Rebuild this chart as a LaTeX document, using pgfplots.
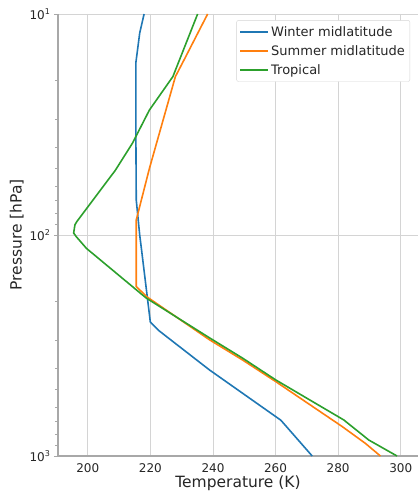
\documentclass[border=0pt]{standalone}
\usepackage{pgfplots}
\pgfplotsset{compat=1.18}
\usepackage{fontspec}
\setmainfont{DejaVu Sans}
\definecolor{mblue}{HTML}{1F77B4}
\definecolor{morange}{HTML}{FF7F0E}
\definecolor{mgreen}{HTML}{2CA02C}
\definecolor{spine}{HTML}{A8A8A8}
\definecolor{gridc}{HTML}{D4D4D4}
\definecolor{txt}{HTML}{262626}
\begin{document}
\begin{tikzpicture}
\begin{axis}[
  scale only axis,
  width=360pt, height=442pt,
  xmin=190.5, xmax=305.5,
  ymode=log, ymin=10, ymax=1000,
  y dir=reverse,
  axis lines*=left,
  axis line style={draw=spine, line width=1.6pt, -},
  xtick={200,220,240,260,280,300},
  ytick={10,100,1000},
  minor ytick={20,30,40,50,60,70,80,90,200,300,400,500,600,700,800,900},
  yticklabels={10\textsuperscript{1},10\textsuperscript{2},10\textsuperscript{3}},
  grid=major,
  major grid style={draw=gridc, line width=0.9pt},
  minor grid style={draw=none},
  tick align=outside,
  major tick length=4pt,
  minor tick length=3pt,
  every tick/.style={draw=spine, line width=0.8pt},
  xtick style={draw=none},
  ticklabel style={font=\fontsize{12}{14}\selectfont, text=txt},
  /pgf/number format/assume math mode=true,
  xlabel={Temperature (K)},
  ylabel={Pressure [hPa]},
  label style={font=\fontsize{15.5}{18}\selectfont, text=txt},
  xlabel style={yshift=4pt},
  ylabel style={yshift=-1pt},
  legend cell align=left,
  legend style={at={(rel axis cs:0.978,0.986)}, anchor=north east,
    font=\fontsize{13}{15}\selectfont, text=txt,
    draw=gridc, rounded corners=2pt, fill=white,
    row sep=3.5pt, inner xsep=3pt, inner ysep=4pt},
  legend image code/.code={\draw[#1] (0pt,0pt) -- (28pt,0pt);},
  clip=true,
]
\addplot[mblue, line width=1.6pt] coordinates {
(271.7,1000) (261.7,689) (238.9,408) (222.6,270) (220,248)
(217.2,117) (216.6,100) (215.5,69.5) (215.4,40) (215.4,16.5)
(216.6,12.2) (218,10)
};
\addlegendentry{Winter midlatitude}
\addplot[morange, line width=1.6pt] coordinates {
(293.5,1000) (288.7,877) (281.3,736) (260.1,461) (249.5,368)
(238.9,298) (218.8,190) (215.5,171) (215.5,85.5) (219.7,50)
(228.0,19.2) (230.9,16.0) (238.3,10)
};
\addlegendentry{Summer midlatitude}
\addplot[mgreen, line width=1.6pt] coordinates {
(298.8,1000) (289.8,847) (281.8,687) (260.1,453) (249.5,361)
(238.9,292) (218.7,193) (199.6,115) (196.4,102) (195.5,98)
(195.9,90) (196.5,87) (208.8,51) (214.3,38.4) (219.7,27.2)
(227.2,19.2) (235.1,10)
};
\addlegendentry{Tropical}
\coordinate (bl) at (rel axis cs:0,0);
\coordinate (tr) at (rel axis cs:1,1);
\end{axis}
\pgfresetboundingbox
\path ([xshift=-58pt,yshift=-39pt]bl) rectangle ([xshift=1pt,yshift=14pt]tr);
\end{tikzpicture}
\end{document}
